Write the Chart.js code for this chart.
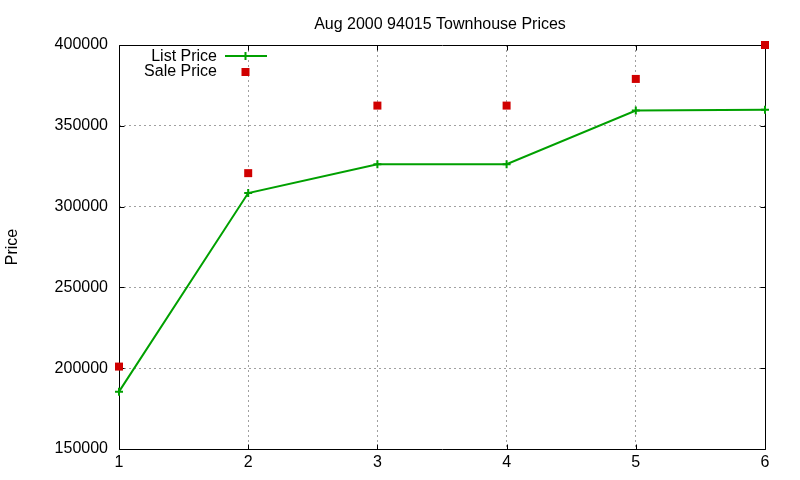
<!DOCTYPE html>
<html>
<head>
<meta charset="utf-8">
<script src="https://cdn.jsdelivr.net/npm/chart.js@4"></script>
<style>
html,body{margin:0;padding:0;background:#fff;}
#wrap{width:800px;height:480px;}
</style>
</head>
<body>
<div id="wrap"><canvas id="c" width="800" height="480"></canvas></div>
<script>
const titleText = "Aug 2000 94015 Townhouse Prices";
const yTitle = "Price";
const categories = [1, 2, 3, 4, 5, 6];
const listPrice = [185500, 308400, 326200, 326200, 359400, 360000];
const salePrice = [201000, 320700, 362500, 362500, 379000, 400000];
const xTicks = [1, 2, 3, 4, 5, 6];
const yTicks = [150000, 200000, 250000, 300000, 350000, 400000];

const FONT = '"Liberation Sans", Arial, sans-serif';
const GREEN = '#00a000';
const RED = '#d00000';

const frame = {
  id: 'frame',
  beforeDatasetsDraw(chart) {
    const {ctx, chartArea: a, scales} = chart;
    ctx.save();
    ctx.strokeStyle = '#000';
    ctx.lineWidth = 1;
    ctx.beginPath();
    const L = Math.round(a.left) + 0.5, R = Math.round(a.right) + 0.5;
    const T = Math.round(a.top) + 0.5, B = Math.round(a.bottom) + 0.5;
    ctx.rect(L, T, R - L, B - T);
    const tl = 5;
    xTicks.forEach(v => {
      const px = Math.round(scales.x.getPixelForValue(v)) + 0.5;
      ctx.moveTo(px, B); ctx.lineTo(px, B - tl);
      ctx.moveTo(px, T); ctx.lineTo(px, T + tl);
    });
    yTicks.forEach(v => {
      const py = Math.round(scales.y.getPixelForValue(v)) + 0.5;
      ctx.moveTo(L, py); ctx.lineTo(L + tl, py);
      ctx.moveTo(R, py); ctx.lineTo(R - tl, py);
    });
    ctx.stroke();
    ctx.restore();
  },
  afterDraw(chart) {
    const {ctx, chartArea: a} = chart;
    ctx.save();
    ctx.fillStyle = '#000';
    ctx.font = '16px ' + FONT;
    ctx.textAlign = 'center';
    ctx.textBaseline = 'alphabetic';
    ctx.fillText(titleText, (a.left + a.right) / 2 - 2, 28.5);
    ctx.save();
    ctx.translate(17, 247);
    ctx.rotate(-Math.PI / 2);
    ctx.textAlign = 'center';
    ctx.fillText(yTitle, 0, 0);
    ctx.restore();
    const ds = chart.data.datasets;
    ctx.textAlign = 'right';
    ctx.fillText(ds[0].label, 217, 60.5);
    ctx.fillText(ds[1].label, 217, 75.5);
    ctx.strokeStyle = ds[0].borderColor;
    ctx.lineWidth = 2;
    ctx.beginPath();
    ctx.moveTo(225, 56); ctx.lineTo(267, 56);
    ctx.moveTo(245.5, 52); ctx.lineTo(245.5, 60);
    ctx.stroke();
    ctx.fillStyle = ds[1].backgroundColor;
    ctx.fillRect(241.5, 68, 8, 8);
    ctx.restore();
  }
};

new Chart(document.getElementById('c'), {
  type: 'scatter',
  data: {
    datasets: [
      {
        label: 'List Price',
        data: categories.map((x, i) => ({x, y: listPrice[i]})),
        showLine: true,
        borderColor: GREEN,
        backgroundColor: GREEN,
        borderWidth: 2,
        pointStyle: 'cross',
        pointRadius: 4,
        pointBorderWidth: 2,
        pointHoverRadius: 4,
        clip: false,
        order: 2
      },
      {
        label: 'Sale Price',
        data: categories.map((x, i) => ({x, y: salePrice[i]})),
        showLine: false,
        borderColor: RED,
        backgroundColor: RED,
        pointStyle: 'rect',
        pointRadius: 5.66,
        pointBorderWidth: 0,
        pointHoverRadius: 5.66,
        clip: false,
        order: 1
      }
    ]
  },
  options: {
    responsive: false,
    animation: false,
    devicePixelRatio: 1,
    layout: {padding: {top: 45, right: 35, left: 0, bottom: 0}},
    plugins: {legend: {display: false}, title: {display: false}, tooltip: {enabled: false}},
    scales: {
      x: {
        type: 'linear',
        min: 1, max: 6,
        afterFit(s) { s.height = 31; },
        afterBuildTicks(s) { s.ticks = xTicks.map(v => ({value: v})); },
        ticks: {color: '#000', font: {family: FONT, size: 16}, padding: 4, maxRotation: 0},
        grid: {
          drawTicks: false,
          color: (c) => (c.tick && (c.tick.value === 1 || c.tick.value === 6)) ? 'rgba(0,0,0,0)' : '#a0a0a0',
          lineWidth: 1
        },
        border: {display: false, dash: [2, 3]}
      },
      y: {
        min: 150000, max: 400000,
        afterFit(s) { s.width = 119; },
        afterBuildTicks(s) { s.ticks = yTicks.map(v => ({value: v})); },
        ticks: {color: '#000', font: {family: FONT, size: 16}, padding: 11, callback: v => String(v)},
        grid: {
          drawTicks: false,
          color: (c) => (c.tick && (c.tick.value === 150000 || c.tick.value === 400000)) ? 'rgba(0,0,0,0)' : '#a0a0a0',
          lineWidth: 1
        },
        border: {display: false, dash: [2, 3]}
      }
    }
  },
  plugins: [frame]
});
</script>
</body>
</html>
